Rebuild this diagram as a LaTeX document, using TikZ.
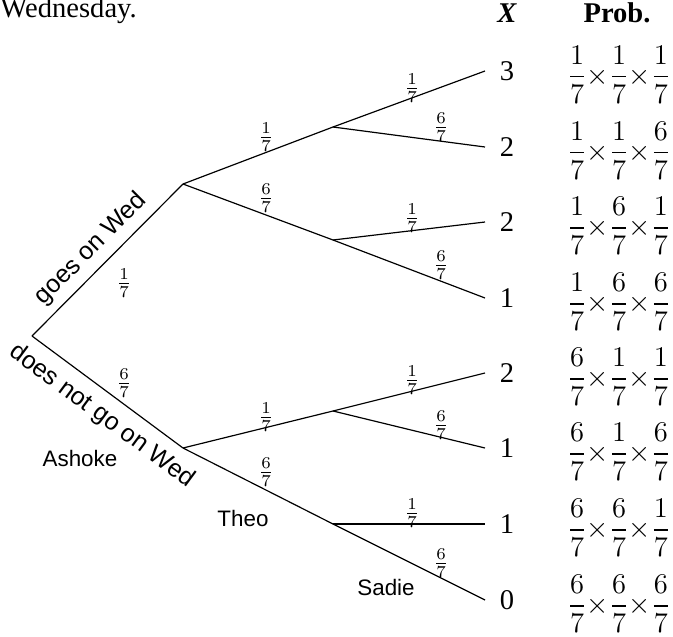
\documentclass[tikz,border=0pt]{standalone}
\usepackage{amsmath}
\usepackage{fontspec}
\setmainfont{Liberation Serif}
\setsansfont{Liberation Sans}
\usetikzlibrary{positioning}

\begin{document}
\begin{tikzpicture}[
    x=0.42pt, y=-0.42pt,
    branch/.style={line width=0.5pt},
    pr/.style={font=\normalsize, inner sep=1pt},
    who/.style={font=\sffamily\fontsize{9.4}{11}\selectfont},
    way/.style={font=\sffamily\fontsize{10.5}{12}\selectfont, inner sep=0pt},
    xval/.style={font=\fontsize{12}{14}\selectfont, inner sep=0pt},
    prod/.style={font=\fontsize{12}{14}\selectfont, inner sep=0pt}
]
\useasboundingbox (0,0) rectangle (673,636);

% tree points
\coordinate (r) at (32,336);
\coordinate (a) at (183,184);
\coordinate (b) at (183,448);
\coordinate (aa) at (333,127);
\coordinate (ab) at (333,240);
\coordinate (ba) at (333,411);
\coordinate (bb) at (333,524);
\coordinate (e1) at (485,71);
\coordinate (e2) at (485,147);
\coordinate (e3) at (485,222);
\coordinate (e4) at (485,298);
\coordinate (e5) at (485,373);
\coordinate (e6) at (485,448);
\coordinate (e7) at (485,524);
\coordinate (e8) at (485,600);

\draw[branch] (r) -- (a);
\draw[branch] (r) -- (b);
\draw[branch] (a) -- (aa);
\draw[branch] (a) -- (ab);
\draw[branch] (b) -- (ba);
\draw[branch] (b) -- (bb);
\draw[branch] (aa) -- (e1);
\draw[branch] (aa) -- (e2);
\draw[branch] (ab) -- (e3);
\draw[branch] (ab) -- (e4);
\draw[branch] (ba) -- (e5);
\draw[branch] (ba) -- (e6);
\draw[branch] (bb) -- (e7);
\draw[branch] (bb) -- (e8);

% branch probabilities
\node[pr] (p1) at (124,283) {$\frac{1}{7}$};
\node[pr] (p2) at (124,383) {$\frac{6}{7}$};
\node[pr] (p3) at (266,137) {$\frac{1}{7}$};
\node[pr] (p4) at (266,198) {$\frac{6}{7}$};
\node[pr] (p5) at (266,417) {$\frac{1}{7}$};
\node[pr] (p6) at (266,472) {$\frac{6}{7}$};
\node[pr] (p7) at (412,88) {$\frac{1}{7}$};
\node[pr] (p8) at (441,127) {$\frac{6}{7}$};
\node[pr] (p9) at (412,218) {$\frac{1}{7}$};
\node[pr] (p10) at (441,265) {$\frac{6}{7}$};
\node[pr] (p11) at (412,380) {$\frac{1}{7}$};
\node[pr] (p12) at (441,425) {$\frac{6}{7}$};
\node[pr] (p13) at (412,513) {$\frac{1}{7}$};
\node[pr] (p14) at (441,563) {$\frac{6}{7}$};

% branch texts
\node[way, rotate=45] (goes) at (91,249) {goes on Wed};
\node[way, rotate=-36.5] (notgoes) at (102,416) {does not go on Wed};
\node[who] (ashoke) at (80,458) {Ashoke};
\node[who] (theo) at (243,518) {Theo};
\node[who] (sadie) at (386,587) {Sadie};

% headings
\node[anchor=base west, font=\fontsize{12}{14}\selectfont, inner sep=0pt] (wed) at (0,17.5) {Wednesday.};
\node[anchor=base, font=\fontsize{12}{14}\selectfont\bfseries\itshape, inner sep=0pt] (hx) at (507,23) {X};
\node[anchor=base, font=\fontsize{12}{14}\selectfont\bfseries, inner sep=0pt] (hp) at (617,23) {Prob.};

% values of X
\node[xval] (x1) at (507,71) {3};
\node[xval] (x2) at (507,147) {2};
\node[xval] (x3) at (507,222) {2};
\node[xval] (x4) at (507,298) {1};
\node[xval] (x5) at (507,373) {2};
\node[xval] (x6) at (507,448) {1};
\node[xval] (x7) at (507,524) {1};
\node[xval] (x8) at (507,600) {0};

% probabilities
\node[prod] (q1) at (619,75) {$\dfrac{1}{7}{\times}\dfrac{1}{7}{\times}\dfrac{1}{7}$};
\node[prod] (q2) at (619,151) {$\dfrac{1}{7}{\times}\dfrac{1}{7}{\times}\dfrac{6}{7}$};
\node[prod] (q3) at (619,226) {$\dfrac{1}{7}{\times}\dfrac{6}{7}{\times}\dfrac{1}{7}$};
\node[prod] (q4) at (619,302) {$\dfrac{1}{7}{\times}\dfrac{6}{7}{\times}\dfrac{6}{7}$};
\node[prod] (q5) at (619,377) {$\dfrac{6}{7}{\times}\dfrac{1}{7}{\times}\dfrac{1}{7}$};
\node[prod] (q6) at (619,452) {$\dfrac{6}{7}{\times}\dfrac{1}{7}{\times}\dfrac{6}{7}$};
\node[prod] (q7) at (619,528) {$\dfrac{6}{7}{\times}\dfrac{6}{7}{\times}\dfrac{1}{7}$};
\node[prod] (q8) at (619,604) {$\dfrac{6}{7}{\times}\dfrac{6}{7}{\times}\dfrac{6}{7}$};
\end{tikzpicture}
\end{document}
